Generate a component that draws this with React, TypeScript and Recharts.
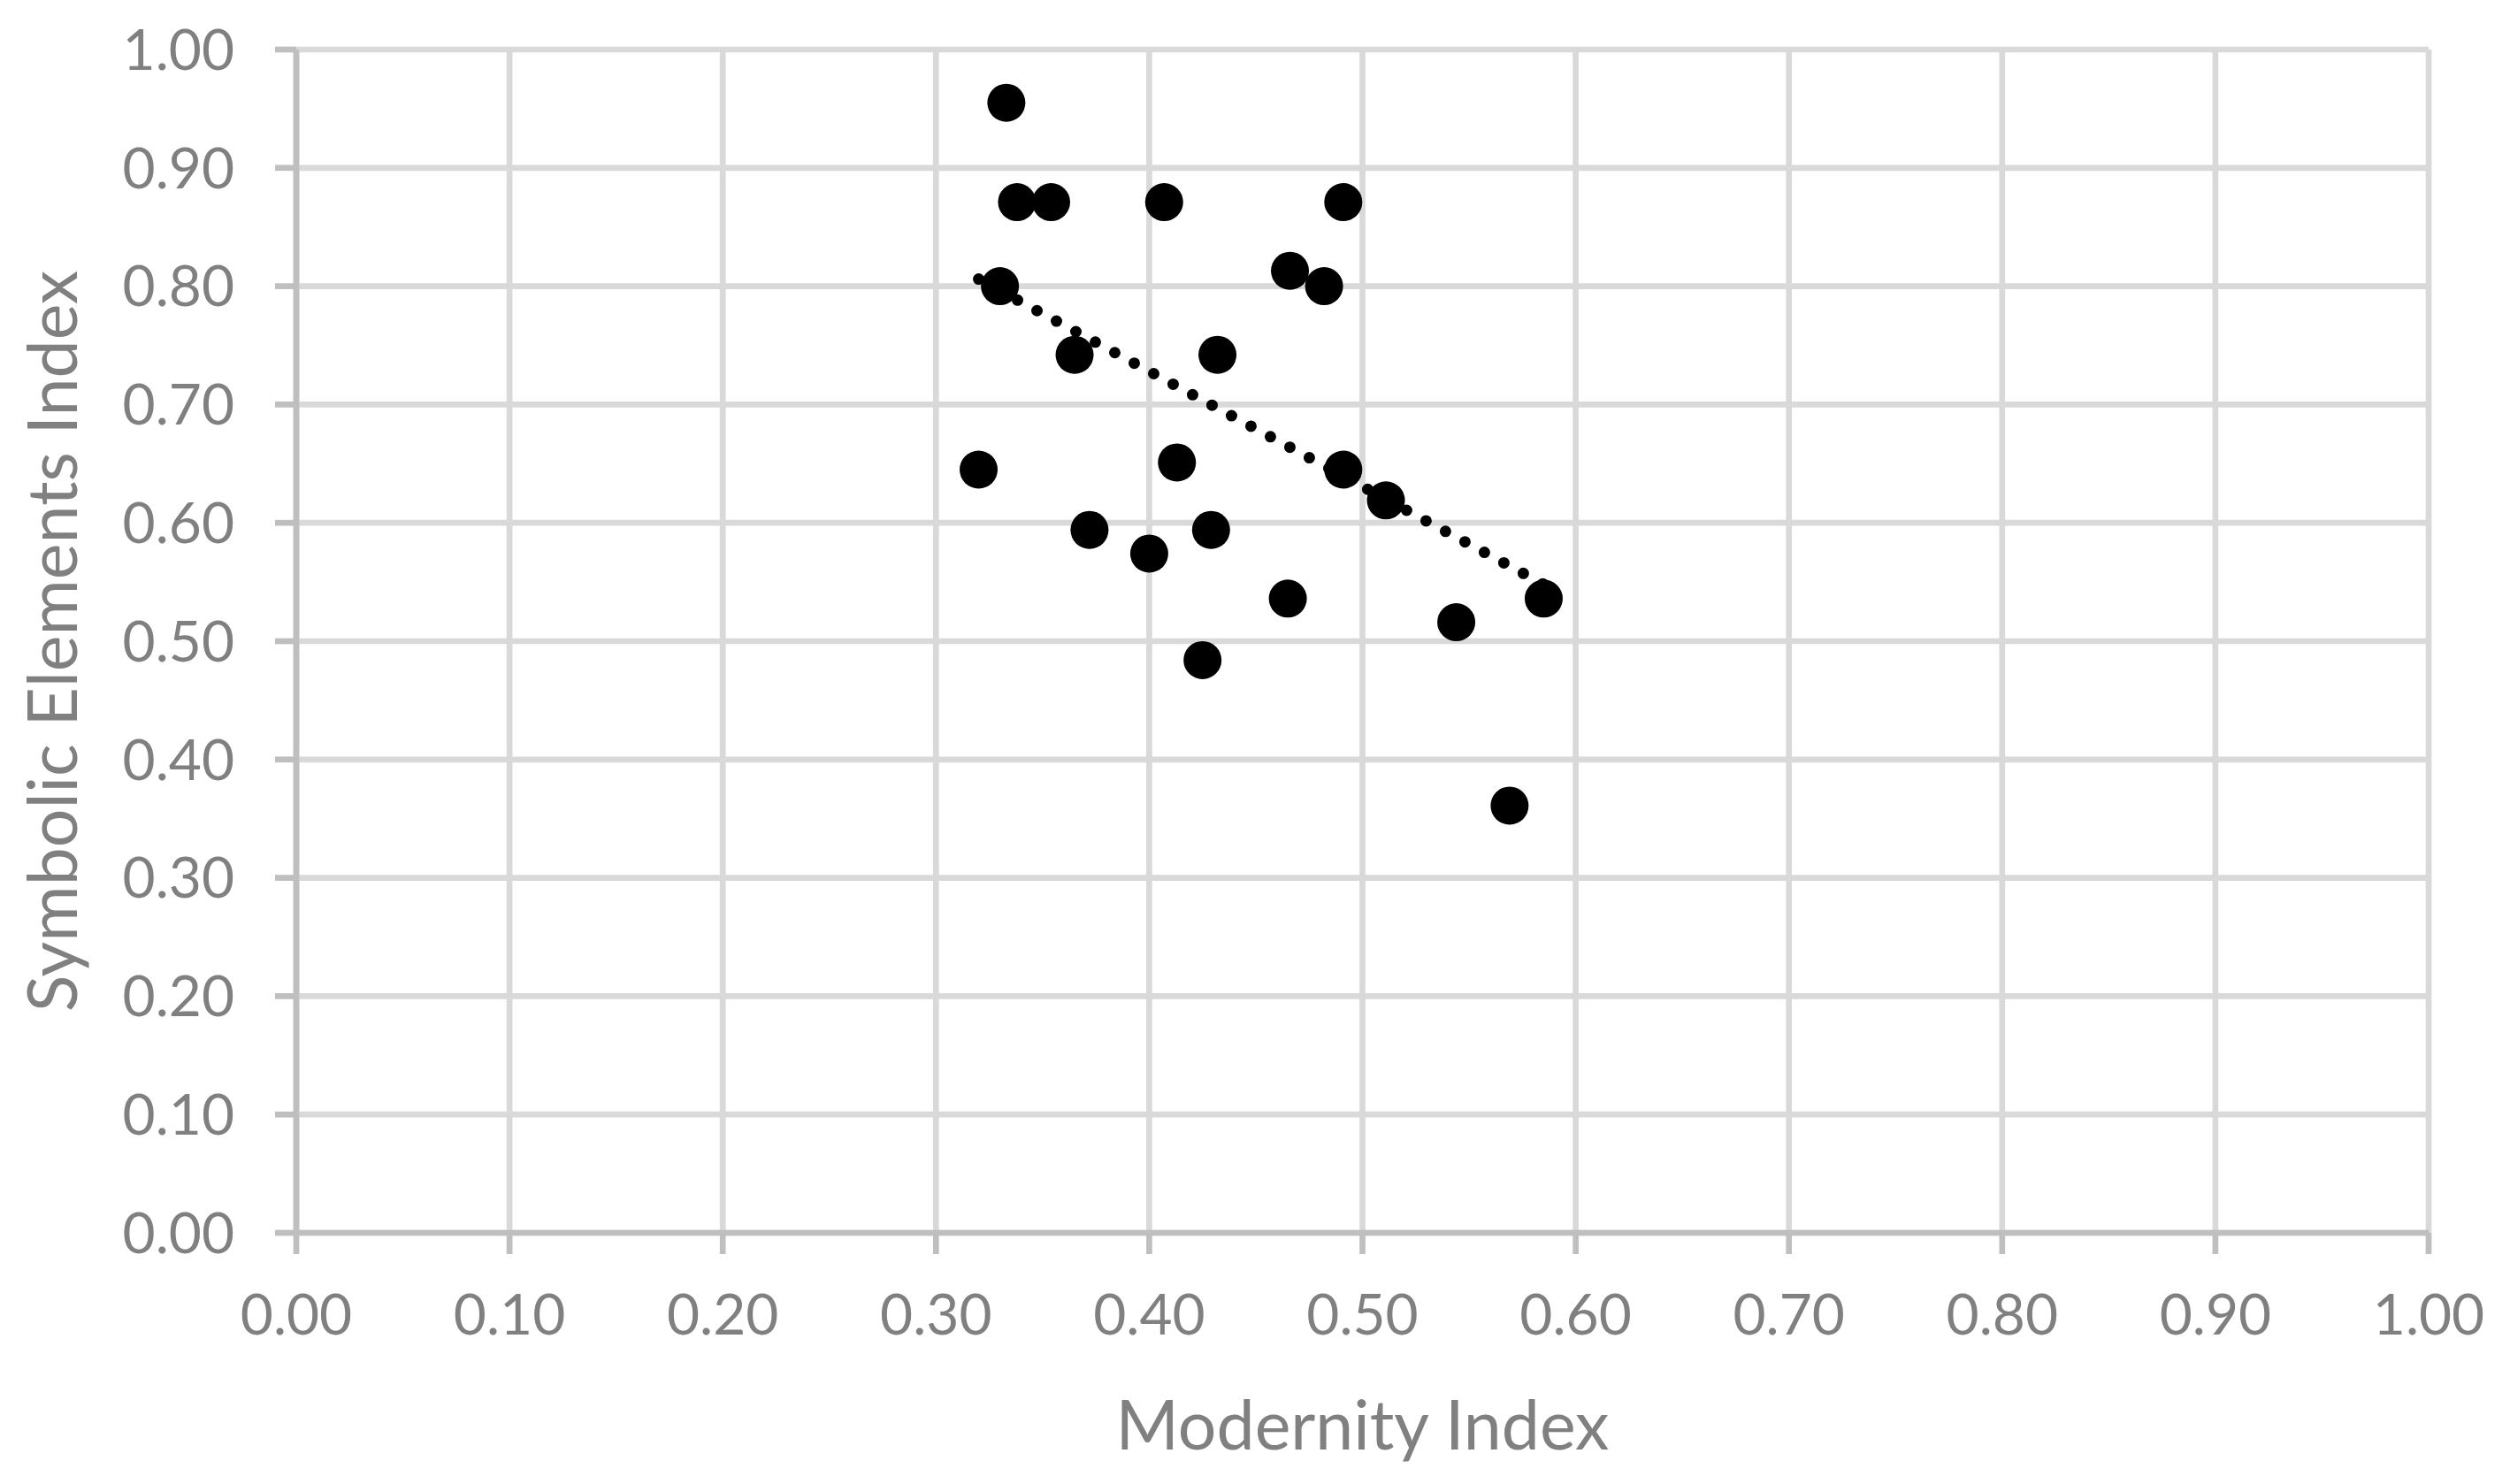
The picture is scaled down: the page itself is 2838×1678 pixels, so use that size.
import React from "react";
import {
  ScatterChart,
  Scatter,
  XAxis,
  YAxis,
  CartesianGrid,
} from "recharts";

// values
const modernity = [
  0.333, 0.338, 0.354, 0.407, 0.491, 0.330, 0.466, 0.482, 0.365, 0.432, 0.320,
  0.413, 0.491, 0.511, 0.372, 0.400, 0.429, 0.465, 0.544, 0.585, 0.425, 0.569,
];
const symbolic = [
  0.955, 0.871, 0.871, 0.871, 0.871, 0.800, 0.813, 0.800, 0.742, 0.742, 0.645,
  0.651, 0.645, 0.619, 0.594, 0.574, 0.594, 0.536, 0.516, 0.536, 0.484, 0.361,
];

// linear trendline end points as drawn in the reference
const trendX = [0.32, 0.585];
const trendY = [0.806, 0.548];

const xTicks = [0, 0.1, 0.2, 0.3, 0.4, 0.5, 0.6, 0.7, 0.8, 0.9, 1.0];
const yTicks = [0, 0.1, 0.2, 0.3, 0.4, 0.5, 0.6, 0.7, 0.8, 0.9, 1.0];

const xTitle = "Modernity Index";
const yTitle = "Symbolic Elements Index";

const points = modernity.map((x, i) => ({ x, y: symbolic[i] }));
const trend = trendX.map((x, i) => ({ x, y: trendY[i] }));

const FONT = "Lato";
const LABEL_GREY = "#808080";
const AXIS_GREY = "#bfbfbf";
const GRID_GREY = "#d9d9d9";
const LINE_W = 6.7;

const fmt = (v: number) => v.toFixed(2);

const Dot = (props: any) => (
  <circle cx={props.cx} cy={props.cy} r={21.5} fill="#000" />
);

const App: React.FC = () => {
  return (
    <div
      style={{
        position: "absolute",
        left: 0,
        top: 0,
        width: 2838,
        height: 1678,
        background: "#fff",
      }}
    >
      <ScatterChart
        width={2838}
        height={1678}
        margin={{ top: 56, right: 92, bottom: 0, left: 0 }}
      >
        <CartesianGrid stroke={GRID_GREY} strokeWidth={LINE_W} />
        <XAxis
          type="number"
          dataKey="x"
          domain={[0, 1]}
          ticks={xTicks}
          interval={0}
          tickFormatter={fmt}
          height={284}
          tickSize={24}
          tickMargin={46}
          tick={{ fill: LABEL_GREY, fontSize: 64, fontFamily: FONT }}
          tickLine={{ stroke: AXIS_GREY, strokeWidth: LINE_W }}
          axisLine={{ stroke: AXIS_GREY, strokeWidth: LINE_W }}
          label={{
            content: ({ viewBox }: any) => (
              <text
                x={viewBox.x + viewBox.width / 2}
                y={1639}
                textAnchor="middle"
                fill={LABEL_GREY}
                fontSize={77}
                fontFamily={FONT}
              >
                {xTitle}
              </text>
            ),
          }}
        />
        <YAxis
          type="number"
          dataKey="y"
          domain={[0, 1]}
          ticks={yTicks}
          interval={0}
          tickFormatter={fmt}
          width={335}
          tickSize={24}
          tickMargin={46}
          tick={{ fill: LABEL_GREY, fontSize: 64, fontFamily: FONT }}
          tickLine={{ stroke: AXIS_GREY, strokeWidth: LINE_W }}
          axisLine={{ stroke: AXIS_GREY, strokeWidth: LINE_W }}
          label={{
            content: ({ viewBox }: any) => {
              const cy = viewBox.y + viewBox.height / 2;
              return (
                <text
                  x={87}
                  y={cy}
                  transform={`rotate(-90, 87, ${cy})`}
                  textAnchor="middle"
                  fill={LABEL_GREY}
                  fontSize={77}
                  fontFamily={FONT}
                >
                  {yTitle}
                </text>
              );
            },
          }}
        />
        <Scatter
          data={trend}
          isAnimationActive={false}
          line={{
            stroke: "#000",
            strokeWidth: 13,
            strokeDasharray: "0 25",
            strokeLinecap: "round",
          }}
          shape={() => <g />}
        />
        <Scatter data={points} isAnimationActive={false} shape={Dot} />
      </ScatterChart>
    </div>
  );
};

export default App;
